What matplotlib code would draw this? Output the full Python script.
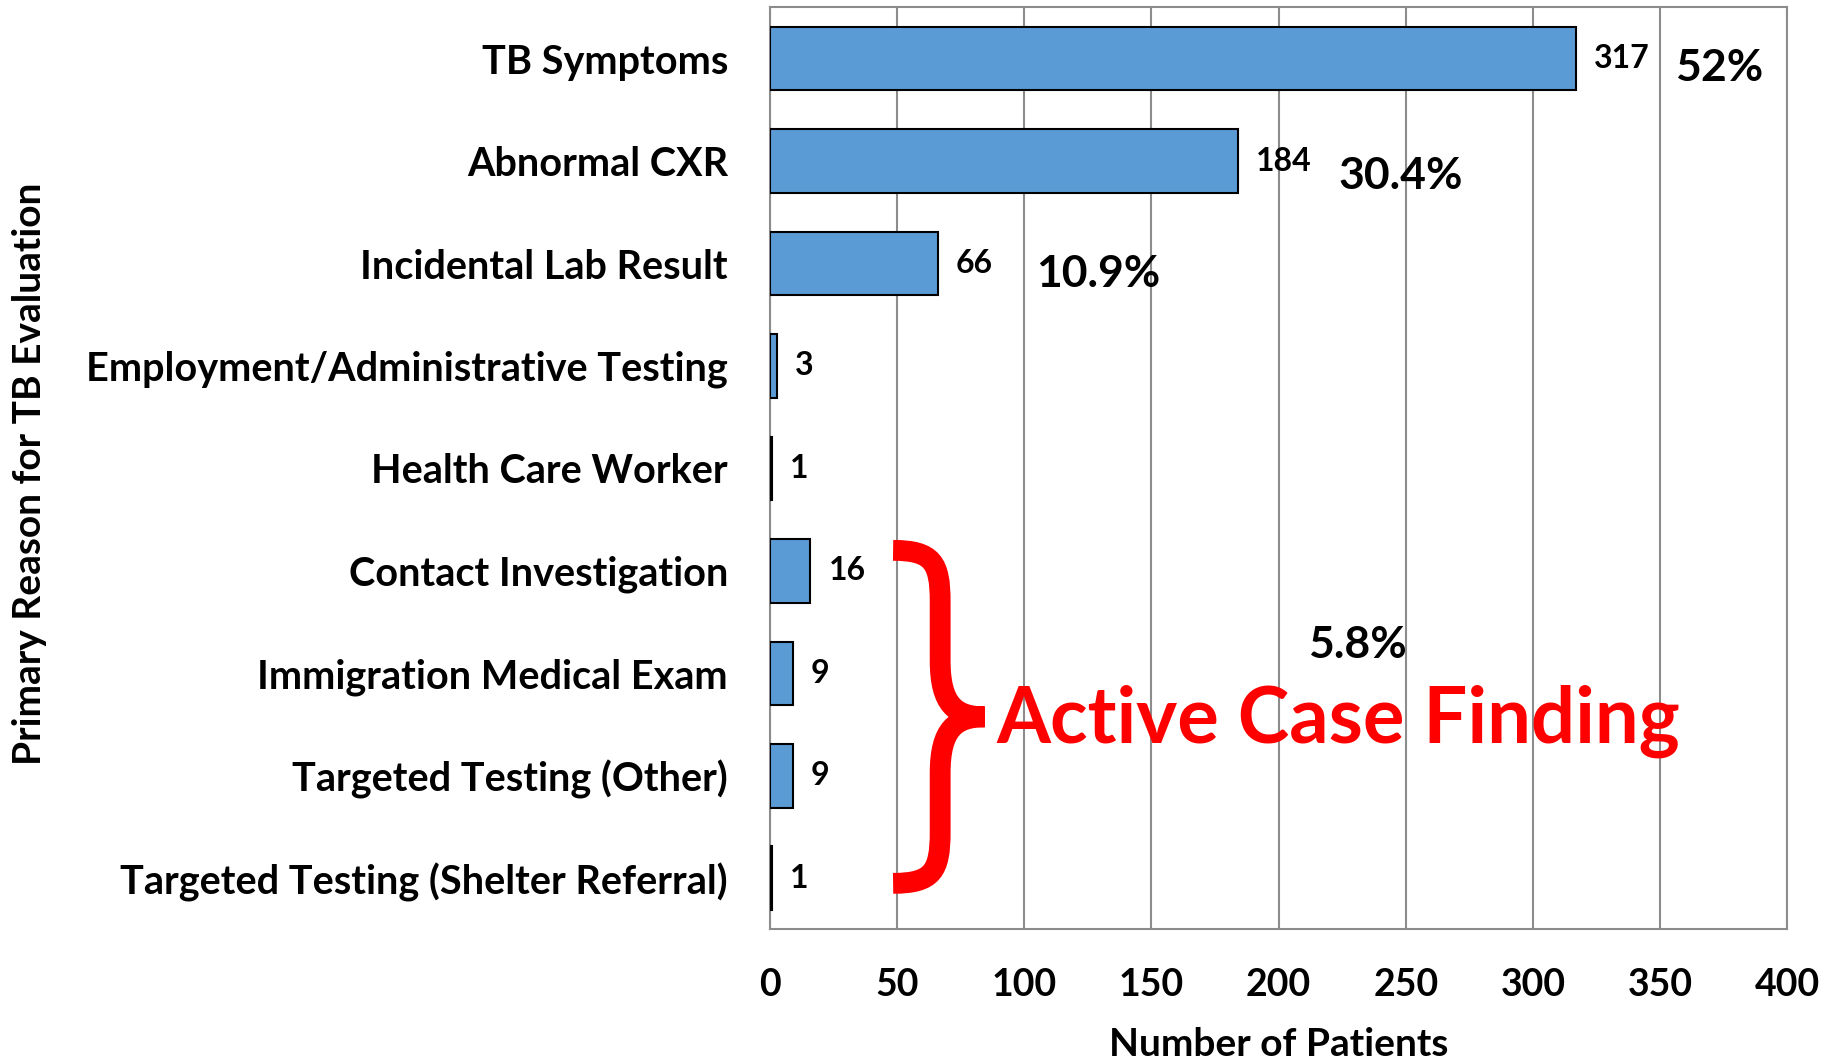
import matplotlib
matplotlib.use("Agg")
import matplotlib.pyplot as plt
from matplotlib.path import Path
from matplotlib.patches import PathPatch

# Reasons and patient counts, top to bottom
reasons = ['TB Symptoms', 'Abnormal CXR', 'Incidental Lab Result',
           'Employment/Administrative Testing', 'Health Care Worker',
           'Contact Investigation', 'Immigration Medical Exam',
           'Targeted Testing (Other)', 'Targeted Testing (Shelter Referral)']
patients = [317, 184, 66, 3, 1, 16, 9, 9, 1]

# Share labels and where they sit (x in patients, y in category rows)
share_labels = ['52%', '30.4%', '10.9%', '5.8%']
share_x = [373, 248, 129, 231]
share_y = [0.09, 1.15, 2.1, 5.72]

x_ticks = [0, 50, 100, 150, 200, 250, 300, 350, 400]

font = 'Lato'

fig = plt.figure(figsize=(18.37, 10.61), dpi=100)
ax = fig.add_axes([0.419, 0.124, 0.554, 0.869])

rows = list(range(len(reasons)))
ax.barh(rows, patients, height=0.62, color='#5B9BD5', edgecolor='black',
        linewidth=1.5, zorder=3)

ax.set_xlim(0, 400)
ax.set_ylim(len(reasons) - 0.5, -0.5)
ax.set_xticks(x_ticks)
ax.set_xticklabels([str(t) for t in x_ticks], fontfamily=font,
                   fontweight='bold', fontsize=27)
ax.set_yticks(rows)
ax.set_yticklabels(reasons, fontfamily=font, fontweight='bold', fontsize=28.5)
ax.tick_params(axis='both', length=0)
ax.tick_params(axis='x', pad=28)
ax.tick_params(axis='y', pad=30)

ax.grid(axis='x', color='#8c8c8c', linewidth=1.5, zorder=0)
for side in ['top', 'right', 'bottom', 'left']:
    ax.spines[side].set_color('#8c8c8c')
    ax.spines[side].set_linewidth(1.5)

# value labels next to bars
for r, v in zip(rows, patients):
    ax.annotate(str(v), (v, r), xytext=(13, 0), textcoords='offset points',
                ha='left', va='center', fontfamily=font, fontweight='bold',
                fontsize=23)

for lab, x, y in zip(share_labels, share_x, share_y):
    ax.text(x, y, lab, ha='center', va='center', fontfamily=font,
            fontweight='bold', fontsize=32)

ax.set_xlabel('Number of Patients', fontfamily=font, fontweight='bold',
              fontsize=28, labelpad=18)
fig.text(0.016, 0.553, 'Primary Reason for TB Evaluation', rotation=90,
         ha='center', va='center', fontfamily=font, fontweight='bold',
         fontsize=28)

# red curly brace around the active case finding rows
y0, y1 = 4.8, 8.05
ym = (y0 + y1) / 2
xt, xs, xp = 48.5, 67.0, 84.5
verts = [
    (xt, y0),
    (xs - 3, y0), (xs, y0 + 0.12), (xs, y0 + 0.5),
    (xs, ym - 0.55),
    (xs, ym - 0.12), (xs + 6, ym), (xp, ym),
    (xs + 6, ym), (xs, ym + 0.12), (xs, ym + 0.55),
    (xs, y1 - 0.5),
    (xs, y1 - 0.12), (xs - 3, y1), (xt, y1),
]
codes = [Path.MOVETO,
         Path.CURVE4, Path.CURVE4, Path.CURVE4,
         Path.LINETO,
         Path.CURVE4, Path.CURVE4, Path.CURVE4,
         Path.CURVE4, Path.CURVE4, Path.CURVE4,
         Path.LINETO,
         Path.CURVE4, Path.CURVE4, Path.CURVE4]
brace = PathPatch(Path(verts, codes), facecolor='none', edgecolor='#ff0000',
                  linewidth=15, capstyle='butt', joinstyle='miter', zorder=4,
                  clip_on=False)
ax.add_patch(brace)

ax.text(89, 6.47, 'Active Case Finding', ha='left', va='center',
        fontfamily=font, fontweight='bold', fontsize=56, color='#ff0000')

fig.savefig('out.png', dpi=100)
